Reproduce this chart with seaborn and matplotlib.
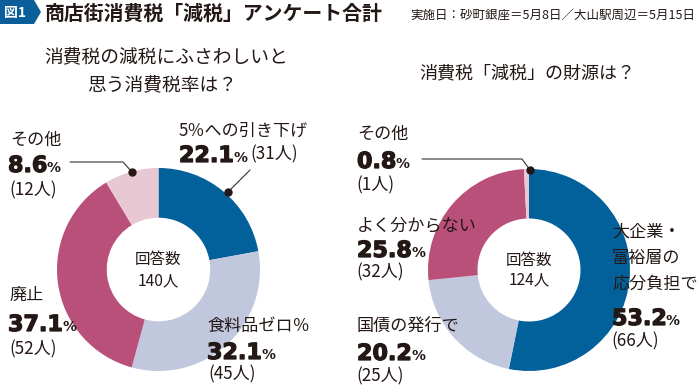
import matplotlib
matplotlib.use("Agg")
import matplotlib.pyplot as plt
import matplotlib.patheffects as pe
from matplotlib.patches import Polygon
import seaborn as sns

sns.set_theme(style="white")
plt.rcParams['font.family'] = ['Noto Sans CJK JP', 'DejaVu Sans']

# ---- data ----
left_labels = ["5％への引き下げ", "食料品ゼロ％", "廃止", "その他"]
left_values = [22.1, 32.1, 37.1, 8.6]
left_counts = [31, 45, 52, 12]
left_total = 140

right_labels = ["大企業・富裕層の応分負担で", "国債の発行で", "よく分からない", "その他"]
right_values = [53.2, 20.2, 25.8, 0.8]
right_counts = [66, 25, 32, 1]
right_total = 124

palette = ["#02609A", "#C1C7DD", "#B9507A", "#E8C8D3"]
TXT = "#231815"

W, H = 700, 388
fig = plt.figure(figsize=(W / 100, H / 100), dpi=100)


def pie_axes(cx, cy, r):
    return fig.add_axes([(cx - r) / W, (H - cy - r) / H, 2 * r / W, 2 * r / H])


def donut(ax, values):
    ax.pie(values, colors=palette, startangle=90, counterclock=False,
           radius=1.0, wedgeprops=dict(width=0.49, linewidth=0))
    ax.set_xlim(-1, 1)
    ax.set_ylim(-1, 1)
    ax.set_aspect("equal")
    ax.axis("off")


axL = pie_axes(158.5, 269.5, 101.5)
donut(axL, left_values)
axR = pie_axes(529, 270, 101)
donut(axR, right_values)

ov = fig.add_axes([0, 0, 1, 1], zorder=5)
ov.set_xlim(0, W)
ov.set_ylim(H, 0)
ov.axis("off")
ov.patch.set_alpha(0)

renderer = fig.canvas.get_renderer()
LS = 12.3  # label size
HEAVY = [pe.withStroke(linewidth=0.9, foreground=TXT)]


def txt(x, y, s, size=LS, weight="normal", ha="left", va="center", color=TXT, family=None):
    kw = {}
    if family:
        kw["family"] = family
    return ov.text(x, y, s, fontsize=size, fontweight=weight, ha=ha, va=va, color=color, **kw)


def right_edge(t):
    bb = t.get_window_extent(renderer)
    return ov.transData.inverted().transform((bb.x1, bb.y0))[0]


def big(x, ybase, value, count=None, count_y=None):
    t = ov.text(x, ybase, f"{value:.1f}", fontsize=16, fontweight="bold",
                family=["DejaVu Sans"], ha="left", va="baseline", color=TXT,
                path_effects=HEAVY)
    x2 = right_edge(t)
    p = ov.text(x2 - 0.5, ybase, "%", fontsize=10, fontweight="bold",
                family=["DejaVu Sans"], ha="left", va="baseline", color=TXT)
    if count is not None:
        x3 = right_edge(p)
        txt(x3 + 3, count_y, f"({count}人)")


# ---- header ----
ov.add_patch(Polygon([(0, 0), (34, 0), (41, 12), (34, 24), (0, 24)], closed=True,
                     facecolor="#0A5F9A", edgecolor="none"))
txt(4, 12.5, "図1", size=10, weight="bold", color="white")
txt(45, 13, "商店街消費税「減税」アンケート合計", size=14.3, weight="bold")
txt(695, 15, "実施日：砂町銀座＝5月8日／大山駅周辺＝5月15日", size=9, ha="right")

# ---- questions ----
txt(166, 58, "消費税の減税にふさわしいと", size=13.5, ha="center")
txt(162, 86, "思う消費税率は？", size=13.5, ha="center")
txt(527, 73, "消費税「減税」の財源は？", size=13, ha="center")

# ---- left donut labels ----
txt(179, 131, left_labels[0])
big(179, 162, left_values[0], left_counts[0], 154)
txt(207, 326, left_labels[1])
big(207, 359, left_values[1])
txt(208, 374, f"({left_counts[1]}人)")
txt(10, 295, left_labels[2])
big(8, 331, left_values[2])
txt(9, 349, f"({left_counts[2]}人)")
txt(10, 140, left_labels[3])
big(8, 172, left_values[3])
txt(9, 190, f"({left_counts[3]}人)")
txt(158.5, 259, "回答数", size=11.2, ha="center")
txt(158.5, 281, f"{left_total}人", size=11.2, ha="center")

# leader lines (left)
ov.plot([228, 250], [192, 170], color="#333333", lw=0.8)
ov.plot([228], [192], "o", color=TXT, ms=5)
ov.plot([70, 123, 132], [162, 162, 172], color="#333333", lw=0.8)
ov.plot([132], [172], "o", color=TXT, ms=5)

# ---- right donut labels ----
txt(357, 134, right_labels[3])
big(357, 168, right_values[3])
txt(356, 185, f"({right_counts[3]}人)")
txt(357, 226, right_labels[2])
big(357, 257, right_values[2])
txt(356, 272, f"({right_counts[2]}人)")
txt(357, 326, right_labels[1])
big(357, 360, right_values[1])
txt(356, 376, f"({right_counts[1]}人)")
txt(612, 232, "大企業・")
txt(612, 258, "富裕層の")
txt(612, 284, "応分負担で")
big(612, 325, right_values[0])
txt(611, 341, f"({right_counts[0]}人)")
txt(529, 260, "回答数", size=11.2, ha="center")
txt(529, 280, f"{right_total}人", size=11.2, ha="center")

ov.plot([422, 522, 530], [159, 159, 170], color="#333333", lw=0.8)
ov.plot([530], [170], "o", color=TXT, ms=5)

fig.savefig("out.png", dpi=100)
